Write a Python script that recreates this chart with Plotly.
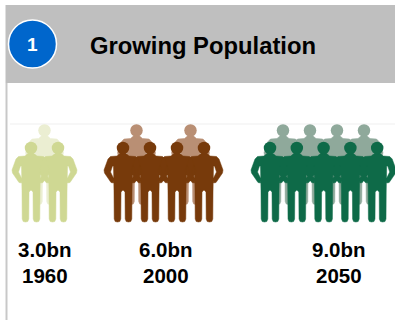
import plotly.graph_objects as go

# World population milestones, shown as a pictogram with one figure per billion
years = ["1960", "2000", "2050"]
population_bn = [3.0, 6.0, 9.0]
front_figures = [2, 4, 5]
back_figures = [1, 2, 4]
front_colors = ["#cfd893", "#773a0b", "#0e6a48"]
back_colors = ["#ebeed2", "#b98f74", "#8fa99b"]
title = "Growing Population"
badge = "1"

W, H = 395, 320
FRONT_SPACING = [27, 27, 26.8]
BACK_SPACING = [0, 54, 27]
FRONT_Y, BACK_Y = 148, 130.5
FRONT_X0 = [31, 123, 270]
BACK_X0 = [44.5, 136.5, 283]
LABEL_X = [45, 166, 339]

# Right half of the person outline, relative to the head centre
half_body = [
    (2.5, 5), (6, 8), (12.5, 8.5), (15, 11), (19, 22), (18.5, 25), (12, 34.5), (9.5, 35),
    (9, 31), (12.5, 24), (10.5, 18), (9.5, 18), (9, 44), (8.8, 71), (7.8, 73.5),
    (5.5, 74), (3.2, 73.5), (2.2, 71), (2, 44), (0, 42),
]
body = half_body + [(-x, y) for x, y in reversed(half_body)]


def crowd(x0, y0, count, spacing, color):
    """Return the bodies and heads for a row of identical figures."""
    xs, ys, hx, hy = [], [], [], []
    for i in range(count):
        cx = x0 + i * spacing
        xs += [cx + p[0] for p in body] + [None]
        ys += [y0 + p[1] for p in body] + [None]
        hx.append(cx)
        hy.append(y0)
    return [
        go.Scatter(x=xs, y=ys, mode="lines", fill="toself", fillcolor=color,
                   line=dict(color=color, width=0.5), hoverinfo="skip"),
        go.Scatter(x=hx, y=hy, mode="markers", hoverinfo="skip",
                   marker=dict(color=color, size=12.5, line=dict(width=0))),
    ]


fig = go.Figure()
for i in range(len(years)):
    fig.add_traces(crowd(BACK_X0[i], BACK_Y, back_figures[i], BACK_SPACING[i], back_colors[i]))
for i in range(len(years)):
    fig.add_traces(crowd(FRONT_X0[i], FRONT_Y, front_figures[i], FRONT_SPACING[i], front_colors[i]))

annotations = [
    dict(x=88, y=45, text=f"<b>{title}</b>", xanchor="left", font=dict(size=23.8, color="#000000")),
    dict(x=32.5, y=44.5, text=f"<b>{badge}</b>", font=dict(size=19, color="#ffffff")),
]
for i in range(len(years)):
    annotations.append(dict(x=LABEL_X[i], y=249, text=f"<b>{population_bn[i]:.1f}bn</b>",
                            font=dict(size=20.5, color="#000000")))
    annotations.append(dict(x=LABEL_X[i], y=275, text=f"<b>{years[i]}</b>",
                            font=dict(size=20.5, color="#000000")))
for a in annotations:
    a.update(xref="x", yref="y", showarrow=False)
    a.setdefault("xanchor", "center")
    a.update(yanchor="middle")

shapes = [
    dict(type="rect", x0=5.5, x1=395, y0=5, y1=83, fillcolor="#bfbfbf", line=dict(width=0), layer="below"),
    dict(type="rect", x0=5.5, x1=7.5, y0=83, y1=320, fillcolor="#c8c8c8", line=dict(width=0), layer="below"),
    dict(type="line", x0=10, x1=395, y0=124, y1=124, line=dict(color="#efefef", width=1), layer="below"),
    dict(type="circle", x0=8.5, x1=56.5, y0=20, y1=68, fillcolor="#0066cc",
         line=dict(color="#ffffff", width=1.5), layer="above"),
]

fig.update_layout(
    width=W, height=H, margin=dict(l=0, r=0, t=0, b=0), showlegend=False,
    paper_bgcolor="#ffffff", plot_bgcolor="#ffffff",
    font=dict(family="Liberation Sans, Arial, sans-serif"),
    xaxis=dict(range=[0, W], visible=False, fixedrange=True),
    yaxis=dict(range=[H, 0], visible=False, fixedrange=True),
    annotations=annotations, shapes=shapes,
)
fig.write_html("out.html", config=dict(displayModeBar=False))
